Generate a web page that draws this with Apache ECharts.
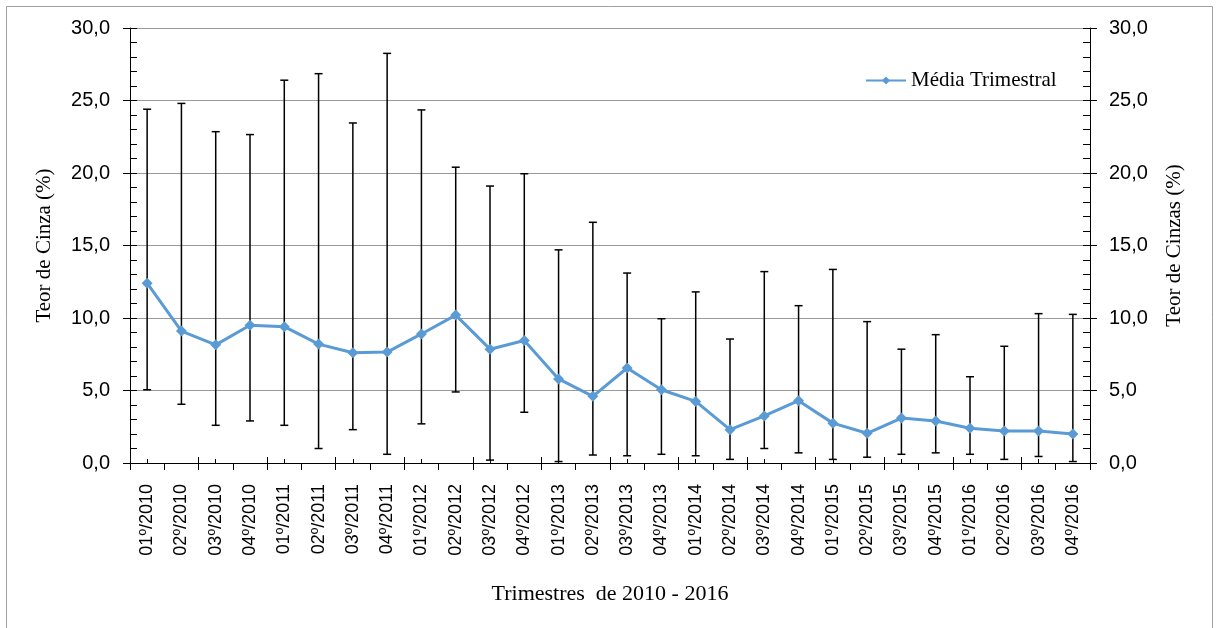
<!DOCTYPE html>
<html>
<head>
<meta charset="utf-8">
<title>Teor de Cinza</title>
<script src="https://cdn.jsdelivr.net/npm/echarts@6/dist/echarts.min.js"></script>
<style>
  html, body { margin: 0; padding: 0; background: #fff; }
  #chart { width: 1216px; height: 628px; }
</style>
</head>
<body>
<div id="chart"></div>
<script>
// trimestres
const categories = [
  '01º/2010', '02º/2010', '03º/2010', '04º/2010',
  '01º/2011', '02º/2011', '03º/2011', '04º/2011',
  '01º/2012', '02º/2012', '03º/2012', '04º/2012',
  '01º/2013', '02º/2013', '03º/2013', '04º/2013',
  '01º/2014', '02º/2014', '03º/2014', '04º/2014',
  '01º/2015', '02º/2015', '03º/2015', '04º/2015',
  '01º/2016', '02º/2016', '03º/2016', '04º/2016'
]
// média trimestral
const mediaValues = [
  12.4, 9.1, 8.15, 9.5, 9.4, 8.2, 7.6, 7.65, 8.9, 10.2, 7.85, 8.45,
  5.8, 4.6, 6.55, 5.05, 4.25, 2.3, 3.25, 4.3, 2.75, 2.05, 3.1, 2.9,
  2.4, 2.2, 2.2, 2.0
]
// máximos e mínimos (barras de erro)
const maxValues = [
  24.4, 24.8, 22.85, 22.65, 26.4, 26.85, 23.45, 28.25, 24.35, 20.4, 19.1, 19.95,
  14.7, 16.6, 13.1, 9.95, 11.8, 8.55, 13.2, 10.85, 13.35, 9.75, 7.85, 8.85,
  5.95, 8.05, 10.3, 10.25
]
const minValues = [
  5.05, 4.05, 2.6, 2.9, 2.6, 1.0, 2.3, 0.6, 2.7, 4.9, 0.2, 3.5,
  0.1, 0.55, 0.5, 0.6, 0.5, 0.25, 1.0, 0.7, 0.25, 0.4, 0.6, 0.7,
  0.6, 0.25, 0.45, 0.1
]

const fmt = (v) => v.toFixed(1).replace('.', ',')
const serif = 'Liberation Serif'
const sans = 'Liberation Sans'

const chart = echarts.init(document.getElementById('chart'))

// eixos y: 0/1 com rótulos (ticks para fora), 2/3 só ticks para dentro
const yBase = { type: 'value', min: 0, max: 30, interval: 5 }
const yLine = { show: true, lineStyle: { color: '#000', width: 1 } }

const xBase = { type: 'category', data: categories, position: 'bottom', boundaryGap: true }

const option = {
  backgroundColor: '#fff',
  animation: false,
  grid: { left: 130, right: 126, top: 28, bottom: 165 },
  legend: {
    data: ['Média Trimestral'],
    left: 860,
    top: 65,
    itemWidth: 40,
    itemHeight: 10,
    itemGap: 4,
    textStyle: { fontFamily: serif, fontSize: 21, color: '#000' }
  },
  xAxis: [
    {
      ...xBase,
      name: 'Trimestres  de 2010 - 2016',
      nameLocation: 'middle',
      nameGap: 120,
      nameTextStyle: { fontFamily: serif, fontSize: 22, color: '#000' },
      axisLine: yLine,
      axisTick: { show: true, length: 7, lineStyle: { color: '#000' } },
      axisLabel: { rotate: 90, interval: 0, margin: 21, fontFamily: sans, fontSize: 18, color: '#000' },
      splitLine: { show: false }
    },
    {
      ...xBase,
      axisLine: { show: false },
      axisTick: { show: true, inside: true, length: 6, lineStyle: { color: '#000' } },
      axisLabel: { show: false },
      splitLine: { show: false }
    },
    {
      ...xBase,
      axisLine: { show: false },
      axisTick: { show: true, inside: true, alignWithLabel: true, length: 4, lineStyle: { color: '#000' } },
      axisLabel: { show: false },
      splitLine: { show: false }
    }
  ],
  yAxis: [
    {
      ...yBase,
      position: 'left',
      name: 'Teor de Cinza (%)',
      nameLocation: 'middle',
      nameGap: 75,
      nameRotate: 90,
      nameTextStyle: { fontFamily: serif, fontSize: 21, color: '#000' },
      axisLine: yLine,
      axisTick: { show: true, length: 7, lineStyle: { color: '#000' } },
      axisLabel: { formatter: fmt, margin: 20, fontFamily: sans, fontSize: 20, color: '#000' },
      splitLine: { show: true, lineStyle: { color: '#9a9a9a', width: 1 } }
    },
    {
      ...yBase,
      position: 'right',
      name: 'Teor de Cinzas (%)',
      nameLocation: 'middle',
      nameGap: 74,
      nameRotate: 90,
      nameTextStyle: { fontFamily: serif, fontSize: 21, color: '#000' },
      axisLine: yLine,
      axisTick: { show: true, length: 7, lineStyle: { color: '#000' } },
      axisLabel: { formatter: fmt, margin: 19, fontFamily: sans, fontSize: 20, color: '#000' },
      splitLine: { show: false }
    },
    {
      ...yBase,
      position: 'left',
      axisLine: { show: false },
      axisTick: { show: true, inside: true, length: 7, lineStyle: { color: '#000' } },
      minorTick: { show: true, splitNumber: 5, length: 7, lineStyle: { color: '#000' } },
      axisLabel: { show: false },
      splitLine: { show: false }
    },
    {
      ...yBase,
      position: 'right',
      axisLine: { show: false },
      axisTick: { show: true, inside: true, length: 7, lineStyle: { color: '#000' } },
      minorTick: { show: true, splitNumber: 5, length: 7, lineStyle: { color: '#000' } },
      axisLabel: { show: false },
      splitLine: { show: false }
    }
  ],
  graphic: [
    {
      type: 'rect',
      shape: { x: 6.5, y: 6.5, width: 1206, height: 640 },
      style: { fill: 'none', stroke: '#a0a0a0', lineWidth: 1 },
      silent: true
    }
  ],
  series: [
    {
      name: 'Intervalo',
      type: 'custom',
      z: 2,
      data: categories.map((c, i) => [i, minValues[i], maxValues[i]]),
      encode: { x: 0, y: [1, 2] },
      renderItem: (params, api) => {
        const i = api.value(0)
        const lo = api.coord([i, api.value(1)])
        const hi = api.coord([i, api.value(2)])
        const w = 4
        const style = { stroke: '#000', lineWidth: 1.5 }
        return {
          type: 'group',
          children: [
            { type: 'line', shape: { x1: lo[0], y1: lo[1], x2: hi[0], y2: hi[1] }, style },
            { type: 'line', shape: { x1: hi[0] - w, y1: hi[1], x2: hi[0] + w, y2: hi[1] }, style },
            { type: 'line', shape: { x1: lo[0] - w, y1: lo[1], x2: lo[0] + w, y2: lo[1] }, style }
          ]
        }
      }
    },
    {
      name: 'Média Trimestral',
      type: 'line',
      z: 3,
      data: mediaValues,
      symbol: 'diamond',
      symbolSize: 11,
      itemStyle: { color: '#5b9bd5' },
      lineStyle: { color: '#5b9bd5', width: 3 }
    }
  ]
}

chart.setOption(option)
</script>
</body>
</html>
